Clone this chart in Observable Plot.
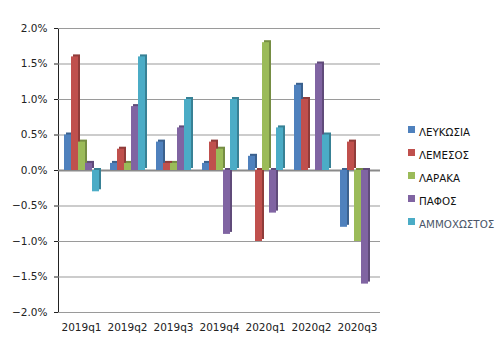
<!DOCTYPE html>
<html>
<head>
<meta charset="utf-8">
<script src="https://cdn.jsdelivr.net/npm/d3@7"></script>
<script src="https://cdn.jsdelivr.net/npm/@observablehq/plot@0.6"></script>
<style>
  body { margin: 0; background: #fff; }
  #wrap { position: relative; width: 504px; height: 355px; font-family: "DejaVu Sans", sans-serif; }
  #legend { position: absolute; left: 408px; top: 120px; font-size: 10.3px; color: #111; }
  #legend div { height: 23px; display: flex; align-items: center; white-space: nowrap; }
  #legend span.sw { display: inline-block; width: 7px; height: 7px; margin-right: 4px; position: relative; top: -2px; }
</style>
</head>
<body>
<div id="wrap"><div id="legend"></div></div>
<script>
const quarters = ["2019q1","2019q2","2019q3","2019q4","2020q1","2020q2","2020q3"];
const cities = ["ΛΕΥΚΩΣΙΑ","ΛΕΜΕΣΟΣ","ΛΑΡΑΚΑ","ΠΑΦΟΣ","ΑΜΜΟΧΩΣΤΟΣ"];
const colors = ["#4F81BD","#C0504D","#9BBB59","#8064A2","#4BACC6"];
const lefkosia    = [0.5, 0.1, 0.4, 0.1, 0.2, 1.2, -0.8];
const lemesos     = [1.6, 0.3, 0.1, 0.4, -1.0, 1.0, 0.4];
const larnaka     = [0.4, 0.1, 0.1, 0.3, 1.8, 0.0, -1.0];
const pafos       = [0.1, 0.9, 0.6, -0.9, -0.6, 1.5, -1.6];
const ammochostos = [-0.3, 1.6, 1.0, 1.0, 0.6, 0.5, 0.0];
const yTicks = [-2.0, -1.5, -1.0, -0.5, 0.0, 0.5, 1.0, 1.5, 2.0];

const series = [lefkosia, lemesos, larnaka, pafos, ammochostos];
const data = [];
quarters.forEach((q, i) => cities.forEach((c, j) => data.push({q, city: c, v: series[j][i] / 100})));
const dark = Object.fromEntries(cities.map((c, j) => [c, d3.color(colors[j]).darker(0.8).formatHex()]));

const chart = Plot.plot({
  width: 504, height: 355,
  marginLeft: 57, marginRight: 124, marginTop: 28, marginBottom: 43,
  style: {fontFamily: "DejaVu Sans, sans-serif", fontSize: "10.5px", color: "#222", background: "transparent"},
  facet: {data, x: "q"},
  fx: {domain: quarters, padding: 0, label: null, axis: "bottom", tickSize: 0, tickPadding: 11},
  x: {domain: cities, axis: null, paddingInner: 0, paddingOuter: 0.7},
  y: {domain: [-0.02, 0.02], ticks: yTicks.map(d => d / 100), tickFormat: d3.format(".1%"), label: null, tickSize: 4, tickPadding: 7, line: true},
  color: {domain: cities, range: colors},
  marks: [
    Plot.ruleY(yTicks.map(d => d / 100), {stroke: "#9a9a9a", strokeWidth: 1.2}),
    Plot.ruleY([0], {stroke: "#8a8a8a", strokeWidth: 2}),
    Plot.barY(data, {x: "city", y: "v", fill: d => dark[d.city], dx: 2, dy: -2}),
    Plot.barY(data, {x: "city", y: "v", fill: "city"})
  ]
});
document.getElementById("wrap").prepend(chart);

const legend = document.getElementById("legend");
cities.forEach((c, j) => {
  const row = document.createElement("div");
  if (j === cities.length - 1) row.style.color = "#4a5568";
  row.innerHTML = `<span class="sw" style="background:${colors[j]}"></span>${c}`;
  legend.appendChild(row);
});
</script>
</body>
</html>
